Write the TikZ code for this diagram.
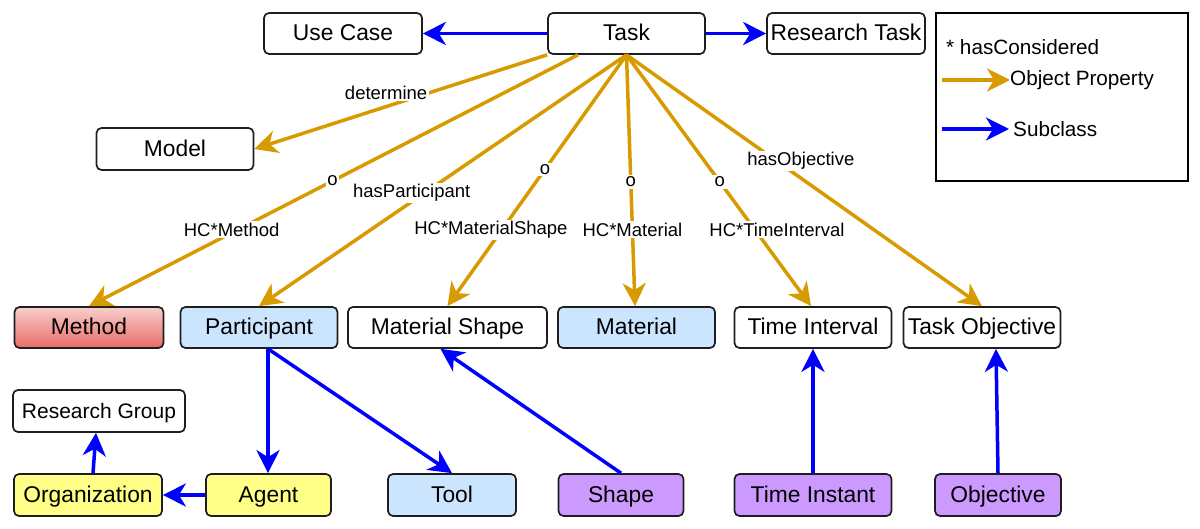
\documentclass[tikz,border=0pt]{standalone}
\usepackage{fontspec}
\setmainfont{Liberation Sans}
\usetikzlibrary{arrows.meta}
\definecolor{ochre}{HTML}{D79B00}
\definecolor{subblue}{HTML}{0000FF}
\definecolor{lblue}{HTML}{CCE5FF}
\definecolor{lyellow}{HTML}{FFFF88}
\definecolor{lpurple}{HTML}{CC99FF}
\definecolor{redtop}{HTML}{F8CECC}
\definecolor{redbot}{HTML}{EA6B66}
\definecolor{boxline}{HTML}{1E1E1E}
\tikzset{
  box/.style={draw=boxline, line width=1.7pt, rounded corners=5pt, fill=white,
    minimum height=41pt, inner sep=0pt, text height=16.5pt, text depth=1.5pt,
    font=\fontsize{22.8}{25}\selectfont},
  smallbox/.style={box, text height=15pt, text depth=1pt, font=\fontsize{21}{24}\selectfont},
  prop/.style={draw=ochre, line width=3.5pt, -{Stealth[length=23pt,width=23pt,inset=7pt]}},
  sub/.style={draw=subblue, line width=3.5pt, -{Stealth[length=23pt,width=23pt,inset=7pt]}},
  lbl/.style={fill=white, inner sep=1.5pt, text=black, font=\fontsize{18.5}{21}\selectfont},
  legtext/.style={anchor=west, inner sep=0pt, font=\fontsize{20.7}{23}\selectfont}
}
\begin{document}
\begin{tikzpicture}[x=1pt, y=-1pt]
\useasboundingbox (0,0) rectangle (1200,529);
% top row
\node[box, minimum width=158pt] (usecase) at (343,33.5) {Use Case};
\node[box, minimum width=157pt] (task) at (626.5,33.5) {Task};
\node[box, minimum width=158pt] (rtask) at (846,33.5) {Research Task};
\node[box, minimum width=157pt, minimum height=42pt] (model) at (175,149) {Model};
% middle row
\node[box, minimum width=149pt, top color=redtop, bottom color=redbot] (method) at (89,327.5) {Method};
\node[box, minimum width=157pt, fill=lblue] (participant) at (259,327.5) {Participant};
\node[box, minimum width=199pt] (mshape) at (447.5,327.5) {Material Shape};
\node[box, minimum width=157pt, fill=lblue] (material) at (636.5,327.5) {Material};
\node[box, minimum width=157pt] (tinterval) at (813,327.5) {Time Interval};
\node[box, minimum width=157pt] (tobjective) at (982,327.5) {Task Objective};
% lower rows
\node[smallbox, minimum width=172pt, minimum height=42pt] (rgroup) at (99,411) {Research Group};
\node[box, minimum width=148pt, minimum height=42pt, fill=lyellow] (org) at (88,495) {Organization};
\node[box, minimum width=125pt, minimum height=42pt, fill=lyellow] (agent) at (268.5,495) {Agent};
\node[box, minimum width=128pt, minimum height=42pt, fill=lblue] (tool) at (452,495) {Tool};
\node[box, minimum width=125pt, minimum height=42pt, fill=lpurple] (shape) at (621,495) {Shape};
\node[box, minimum width=157pt, minimum height=42pt, fill=lpurple] (tinstant) at (813,495) {Time Instant};
\node[box, minimum width=126pt, minimum height=42pt, fill=lpurple] (objective) at (998,495) {Objective};
% legend
\node[draw=black, line width=2pt, minimum width=252pt, minimum height=168pt, inner sep=0pt] (legend) at (1062,97) {};
\node[legtext] (hc) at (946,47) {* hasConsidered};
\node[legtext] (optext) at (1010,80) {Object Property};
\node[legtext] (subtext) at (1013,129) {Subclass};
\coordinate (ops) at (942,80);
\coordinate (sbs) at (942,129);
\draw[prop] (ops) -- (optext.west);
\draw[sub] (sbs) -- ([xshift=-4pt]subtext.west);
% subclass arrows top
\draw[sub] (task.west) -- (usecase.east);
\draw[sub] (task.east) -- (rtask.west);
% object properties
\draw[prop] (task.south west) -- (model.east)
  node[lbl, pos=0.55, yshift=14pt] {determine};
\draw[prop] ([xshift=-48.5pt]task.south) -- (method.north)
  node[lbl, pos=0.502] {o}
  node[lbl, pos=0.696, xshift=-6pt] {HC*Method};
\draw[prop] (task.south) -- (participant.north)
  node[lbl, pos=0.549, xshift=-13pt] {hasParticipant};
\draw[prop] (task.south) -- (mshape.north)
  node[lbl, pos=0.455] {o}
  node[lbl, pos=0.696, xshift=-11pt] {HC*MaterialShape};
\draw[prop] (task.south) -- ([xshift=-1.5pt]material.north)
  node[lbl, pos=0.506] {o}
  node[lbl, pos=0.696] {HC*Material};
\draw[prop] (task.south) -- ([xshift=-2pt]tinterval.north)
  node[lbl, pos=0.506] {o}
  node[lbl, pos=0.696, xshift=22pt] {HC*TimeInterval};
\draw[prop] (task.south) -- (tobjective.north)
  node[lbl, pos=0.423, xshift=24pt] {hasObjective};
% subclass arrows bottom
\draw[sub] ([xshift=9pt]participant.south) -- ([xshift=-0.5pt]agent.north);
\draw[sub] ([xshift=9pt]participant.south) -- (tool.north);
\draw[sub] ([xshift=5pt]org.north) -- ([xshift=-3pt]rgroup.south);
\draw[sub] (agent.west) -- (org.east);
\draw[sub] (shape.north) -- ([xshift=-7pt]mshape.south);
\draw[sub] (tinstant.north) -- (tinterval.south);
\draw[sub] (objective.north) -- ([xshift=14pt]tobjective.south);
\end{tikzpicture}
\end{document}
